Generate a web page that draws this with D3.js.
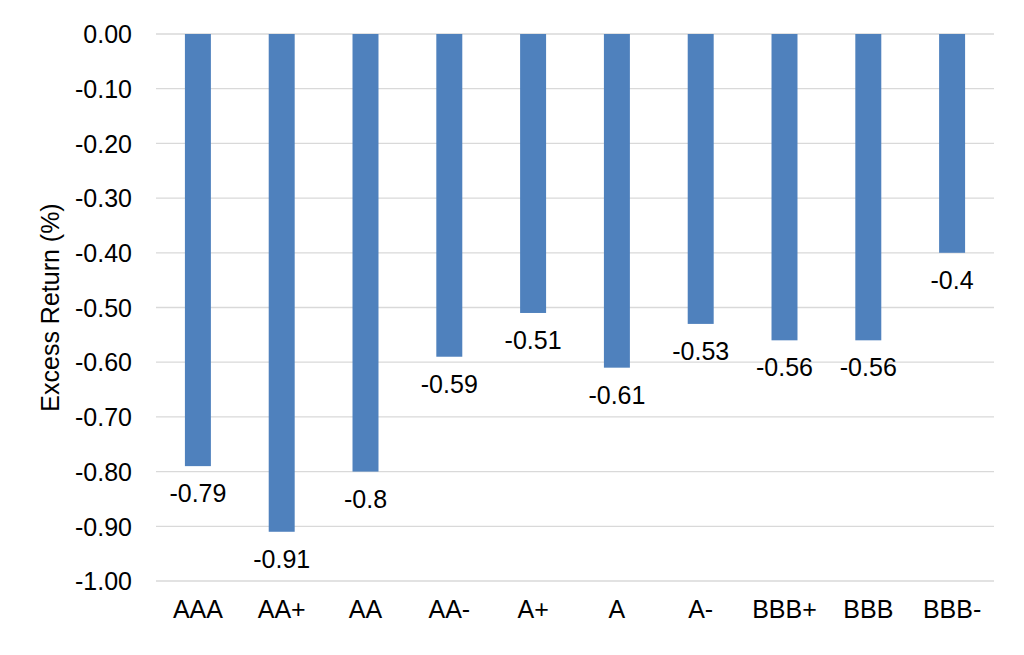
<!DOCTYPE html>
<html><head><meta charset="utf-8">
<script src="https://cdn.jsdelivr.net/npm/d3@7"></script>
<style>body{margin:0;background:#fff;}text{font-family:"Liberation Sans",Arial,sans-serif;fill:#000;}</style>
</head><body><svg id="c" width="1024" height="655"></svg>
<script>
const categories = ["AAA","AA+","AA","AA-","A+","A","A-","BBB+","BBB","BBB-"];
const values = [-0.79,-0.91,-0.8,-0.59,-0.51,-0.61,-0.53,-0.56,-0.56,-0.4];
const valueLabels = ["-0.79","-0.91","-0.8","-0.59","-0.51","-0.61","-0.53","-0.56","-0.56","-0.4"];
const yTicks = [0,-0.1,-0.2,-0.3,-0.4,-0.5,-0.6,-0.7,-0.8,-0.9,-1.0];
const yTitle = "Excess Return (%)";

(function(){
const svg = d3.select("#c");
const pL = 156, pR = 994, pT = 34, pB = 581;
const FS = 25;
const x = d3.scaleBand().domain(categories).range([pL, pR]).paddingInner(0.69).paddingOuter(0.345);
const y = d3.scaleLinear().domain([0, -1]).range([pT, pB]);

const grid = svg.append("g");
grid.selectAll("line").data(yTicks).join("line")
  .attr("x1", pL).attr("x2", pR)
  .attr("y1", d => y(d)).attr("y2", d => y(d))
  .attr("stroke", "#d9d9d9").attr("stroke-width", 1.3);

const yAxis = svg.append("g").attr("transform", `translate(${pL},0)`)
  .call(d3.axisLeft(y).tickValues(yTicks).tickFormat(d => d.toFixed(2)).tickSize(0).tickPadding(24));
yAxis.attr("font-size", null).attr("font-family", null);
yAxis.select(".domain").remove();
yAxis.selectAll("text").style("font-size", FS + "px").attr("fill", "#000").attr("dy", "0.35em");

const xAxis = svg.append("g").attr("transform", `translate(0,${pB})`)
  .call(d3.axisBottom(x).tickSize(0).tickPadding(19));
xAxis.attr("font-size", null).attr("font-family", null);
xAxis.select(".domain").remove();
xAxis.selectAll("text").style("font-size", FS + "px").attr("fill", "#000");

svg.append("g").selectAll("rect").data(values).join("rect")
  .attr("x", (d,i) => x(categories[i]))
  .attr("width", x.bandwidth())
  .attr("y", y(0))
  .attr("height", d => y(d) - y(0))
  .attr("fill", "#4f81bd");

svg.append("g").selectAll("text").data(values).join("text")
  .attr("x", (d,i) => x(categories[i]) + x.bandwidth()/2)
  .attr("y", d => y(d) + 36)
  .attr("text-anchor", "middle").style("font-size", FS + "px")
  .text((d,i) => valueLabels[i]);

svg.append("text")
  .attr("transform", `translate(59,${(pT+pB)/2}) rotate(-90)`)
  .attr("text-anchor", "middle").style("font-size", "25px")
  .text(yTitle);
})();
</script></body></html>
